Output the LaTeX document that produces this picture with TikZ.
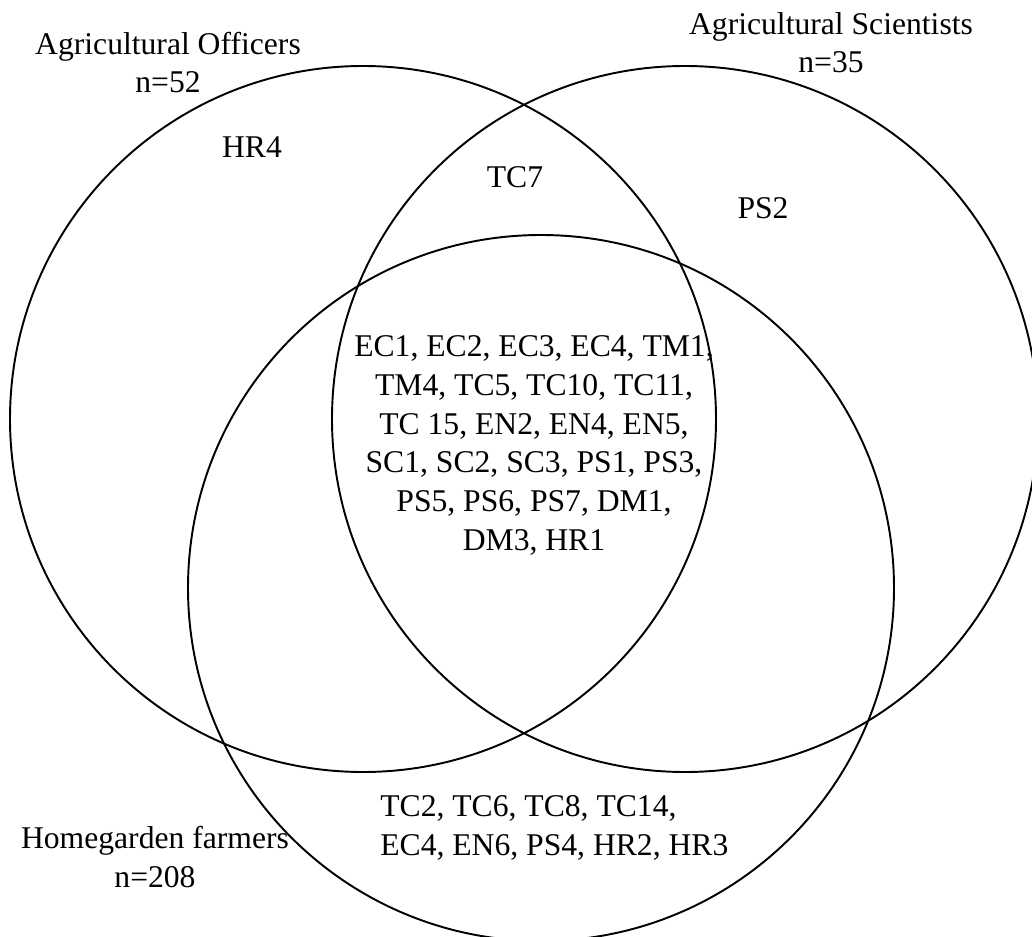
\documentclass[tikz,border=0pt]{standalone}
\usepackage{fontspec}
\setmainfont{Liberation Serif}
\begin{document}
\begin{tikzpicture}
    \tikzset{set/.style = {shape=circle,draw,line width=1.1pt,minimum size=14.12cm}}
    \tikzset{txt/.style = {font=\fontsize{18}{22}\selectfont,inner sep=0pt,anchor=base,align=center}}
    \useasboundingbox (0,0) rectangle (20.64,-18.74);
    % the three groups
    \node[set] (ao) at (7.26,-8.38) {};
    \node[set] (as) at (13.70,-8.38) {};
    \node[set] (hf) at (10.82,-11.76) {};
    % group names
    \node[txt] (aolab) at (3.36,-1.86) {Agricultural Officers\\n=52};
    \node[txt] (aslab) at (16.62,-1.46) {Agricultural Scientists\\n=35};
    \node[txt] (hflab) at (3.10,-17.74) {Homegarden farmers\\n=208};
    % items
    \node[txt] (hr4) at (5.04,-3.16) {HR4};
    \node[txt] (tc7) at (10.30,-3.76) {TC7};
    \node[txt] (ps2) at (15.26,-4.38) {PS2};
    \node[txt] (common) at (10.68,-11.00) {EC1, EC2, EC3, EC4, TM1,\\TM4, TC5, TC10, TC11,\\TC 15, EN2, EN4, EN5,\\SC1, SC2, SC3, PS1, PS3,\\PS5, PS6, PS7, DM1,\\DM3, HR1};
    \node[txt,anchor=base west,align=left] (hfonly) at (7.60,-17.10) {TC2, TC6, TC8, TC14,\\EC4, EN6, PS4, HR2, HR3};
\end{tikzpicture}
\end{document}
